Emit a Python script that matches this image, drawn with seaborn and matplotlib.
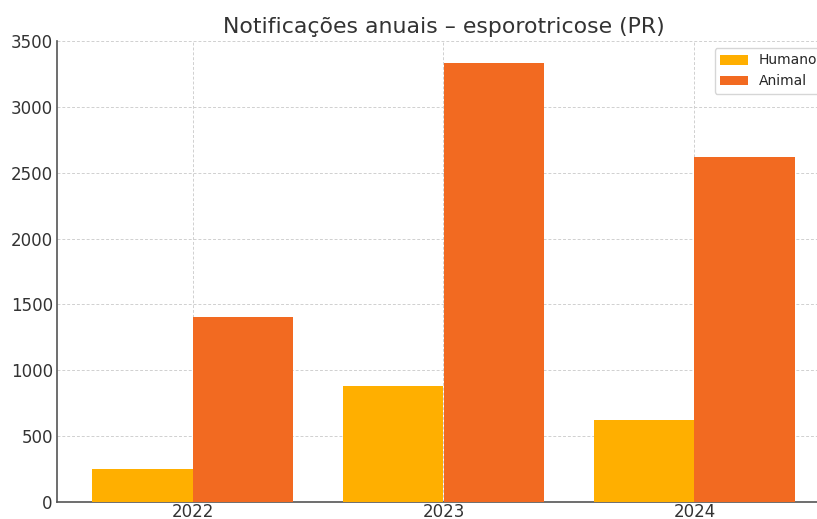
import matplotlib
matplotlib.use("Agg")
import matplotlib.pyplot as plt
import seaborn as sns
import pandas as pd

anos = ["2022", "2023", "2024"]
humano = [252, 881, 623]
animal = [1408, 3335, 2618]
series = ["Humano", "Animal"]
cores = ["#FFAF00", "#F26A21"]

df = pd.DataFrame({
    "Ano": anos * 2,
    "Valor": humano + animal,
    "Tipo": ["Humano"] * 3 + ["Animal"] * 3,
})

sns.set_theme(style="white")
plt.rcParams["font.family"] = ["DejaVu Sans"]

W, H = 817, 519
fig = plt.figure(figsize=(W / 100, H / 100), dpi=100)
ax = fig.add_axes([57 / W, 17 / H, (830 - 57) / W, 461 / H])

sns.barplot(data=df, x="Ano", y="Valor", hue="Tipo", hue_order=series,
            palette=cores, saturation=1, ax=ax, width=0.8, linewidth=0,
            zorder=3)

ax.set_xlim(-0.54, 2.54)
ax.set_ylim(0, 3500)
ax.set_yticks(range(0, 3501, 500))
ax.grid(True, linestyle=(0, (3, 2)), color="#d0d0d0", linewidth=0.7, zorder=0)
ax.set_axisbelow(True)
for s in ["top", "right"]:
    ax.spines[s].set_visible(False)
for s in ["left", "bottom"]:
    ax.spines[s].set_color("#555555")
    ax.spines[s].set_linewidth(1.2)
ax.tick_params(axis="both", labelsize=12, colors="#333333", direction="in",
               length=4, width=1, pad=3)
ax.tick_params(axis="x", pad=1)
ax.set_xlabel("")
ax.set_ylabel("")
ax.set_title("Notificações anuais – esporotricose (PR)", fontsize=15.8,
             color="#333333", pad=6)
leg = ax.legend(loc="upper right", fontsize=10, title=None, frameon=True,
                borderaxespad=0.5)
leg.get_frame().set_edgecolor("#cccccc")

fig.savefig("out.png", dpi=100)
